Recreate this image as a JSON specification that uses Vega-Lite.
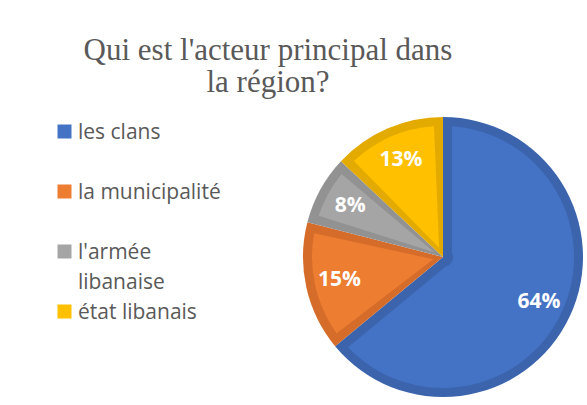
{
  "$schema": "https://vega.github.io/schema/vega-lite/v6.json",
  "autosize": {"type": "none"},
  "width": 280,
  "height": 280,
  "padding": {"left": 303, "top": 117, "right": 4, "bottom": 8},
  "background": "white",
  "title": {
    "text": ["Qui est l'acteur principal dans", "la région?"],
    "anchor": "middle",
    "dx": -175,
    "offset": 18,
    "font": "Liberation Serif",
    "fontSize": 31,
    "fontWeight": "normal",
    "color": "#595959",
    "lineHeight": 32
  },
  "data": {
    "values": [
      {"acteur": "les clans", "part": 0.64, "ordre": 1},
      {"acteur": "la municipalité", "part": 0.15, "ordre": 2},
      {"acteur": "l'armée libanaise", "part": 0.08, "ordre": 3},
      {"acteur": "état libanais", "part": 0.13, "ordre": 4}
    ]
  },
  "encoding": {
    "theta": {"field": "part", "type": "quantitative", "stack": true},
    "order": {"field": "ordre", "type": "quantitative"}
  },
  "layer": [
    {
      "mark": {"type": "arc", "strokeWidth": 0},
      "encoding": {
        "color": {
          "field": "acteur",
          "type": "nominal",
          "scale": {
            "domain": ["les clans", "la municipalité", "l'armée libanaise", "état libanais"],
            "range": ["#3B64AD", "#D56C2A", "#929292", "#E3AA00"]
          },
          "legend": null
        }
      }
    },
    {
      "mark": {"type": "arc", "radius": 131, "radius2": 10, "padAngle": 0.137, "strokeWidth": 0},
      "encoding": {
        "color": {
          "field": "acteur",
          "type": "nominal",
          "scale": {
            "domain": ["les clans", "la municipalité", "l'armée libanaise", "état libanais"],
            "range": ["#4472C4", "#ED7D31", "#A5A5A5", "#FFC000"]
          },
          "legend": {
            "title": null,
            "orient": "none",
            "legendX": -249,
            "legendY": 4,
            "padding": 0,
            "symbolType": "square",
            "symbolSize": 196,
            "symbolStrokeWidth": 0,
            "symbolOpacity": 1,
            "labelFont": "Open Sans",
            "labelFontSize": 21,
            "labelColor": "#595959",
            "labelLimit": 300,
            "labelOffset": 3,
            "labelBaseline": "alphabetic",
            "labelExpr": "datum.label == \"l'armée libanaise\" ? [\"l'armée\", \"libanaise\"] : [datum.label, \"\"]",
            "rowPadding": 8,
            "encode": {
              "labels": {"update": {"dy": {"value": 7}, "lineHeight": {"value": 30}}}
            }
          }
        }
      }
    },
    {
      "mark": {"type": "text", "radius": 106, "font": "Open Sans", "fontWeight": "bold", "fontSize": 21, "color": "white"},
      "encoding": {
        "text": {"field": "part", "type": "quantitative", "format": ".0%"}
      }
    }
  ],
  "resolve": {"scale": {"color": "independent"}},
  "config": {"view": {"stroke": null}}
}
